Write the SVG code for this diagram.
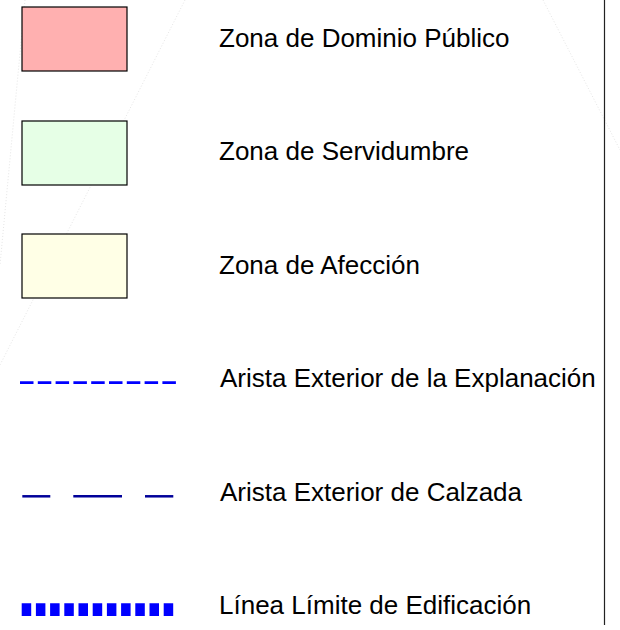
<svg xmlns="http://www.w3.org/2000/svg" width="620" height="630" viewBox="0 0 620 630">
<style>
.lbl{font-family:"Liberation Sans",Arial,sans-serif;font-size:26px;fill:#000}
.box{stroke:#000;stroke-width:1.2}
.faint{stroke:#e6e6e6;stroke-width:1;stroke-dasharray:1 2;fill:none}
</style>
<rect width="620" height="630" fill="#fff"/>
<g id="background">
<line class="faint" x1="185" y1="0" x2="0" y2="365"/>
<line class="faint" x1="25" y1="0" x2="0" y2="265"/>
<line class="faint" x1="543" y1="0" x2="620" y2="150"/>
</g>
<g id="frame"><line x1="604.5" y1="0" x2="604.5" y2="625" stroke="#222" stroke-width="1.2"/></g>
<g id="dominio-publico">
<rect class="box" x="22" y="7" width="105" height="64" fill="#ffb0b0"/>
<text class="lbl" x="219" y="47">Zona de Dominio Público</text>
</g>
<g id="servidumbre">
<rect class="box" x="22" y="121" width="105" height="64" fill="#e6ffe6"/>
<text class="lbl" x="219" y="160">Zona de Servidumbre</text>
</g>
<g id="afeccion">
<rect class="box" x="22" y="234" width="105" height="64" fill="#ffffe6"/>
<text class="lbl" x="219" y="274">Zona de Afección</text>
</g>
<g id="explanacion">
<line x1="20" y1="382.7" x2="176" y2="382.7" stroke="#0000ff" stroke-width="2.8" stroke-dasharray="13.5 4.3"/>
<text class="lbl" x="220" y="387">Arista Exterior de la Explanación</text>
</g>
<g id="calzada">
<g stroke="#000099" stroke-width="2.5">
<line x1="22.3" y1="496.3" x2="50.3" y2="496.3"/>
<line x1="73.3" y1="496.3" x2="122" y2="496.3"/>
<line x1="145" y1="496.3" x2="173.3" y2="496.3"/>
</g>
<text class="lbl" x="220" y="501">Arista Exterior de Calzada</text>
</g>
<g id="edificacion">
<line x1="21.7" y1="609.7" x2="174" y2="609.7" stroke="#0000ff" stroke-width="12.7" stroke-dasharray="9.5 4.7"/>
<text class="lbl" x="219" y="614">Línea Límite de Edificación</text>
</g>
</svg>
